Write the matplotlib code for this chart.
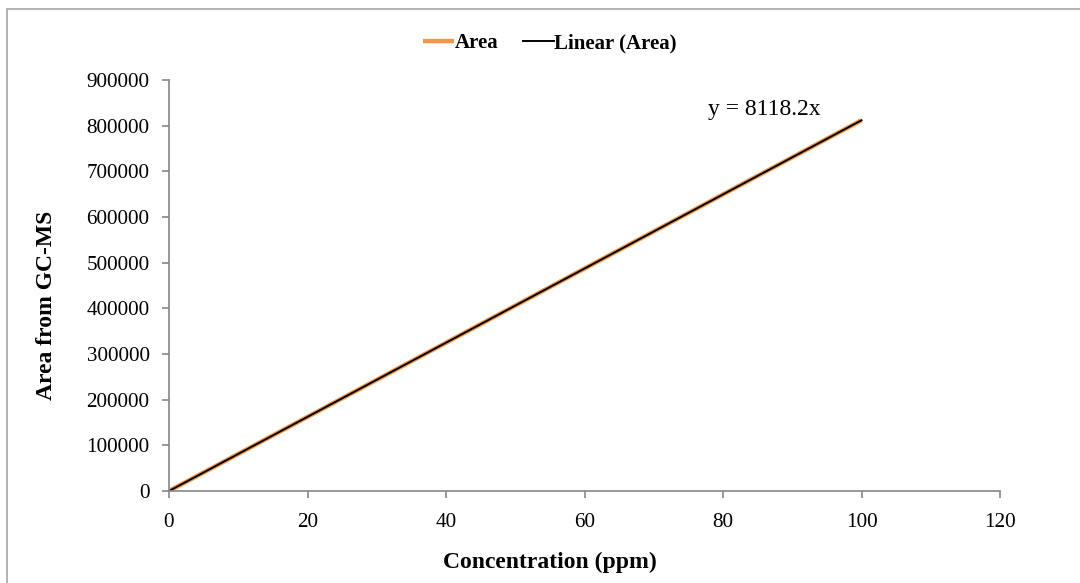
import numpy as np
import matplotlib.pyplot as plt
from matplotlib.patches import Rectangle

# data
concentration = [0, 10, 20, 40, 60, 80, 100]
area = [0, 81200, 162300, 324700, 487100, 649500, 811800]
slope = 8118.2
x_ticks = [0, 20, 40, 60, 80, 100, 120]
y_ticks = [0, 100000, 200000, 300000, 400000, 500000, 600000, 700000, 800000, 900000]

plt.rcParams['font.family'] = ['Liberation Serif', 'DejaVu Serif']

fig = plt.figure(figsize=(10.8, 5.83), dpi=100)
ax = fig.add_axes([169 / 1080, 1 - 491 / 583, (1000 - 169) / 1080, (491 - 80) / 583])

# chart border (Excel style)
fig.patches.append(Rectangle((7 / 1080, -0.1), 1.2, 1 - 9.5 / 583 + 0.1,
                             transform=fig.transFigure, fill=False,
                             edgecolor='#a6a6a6', linewidth=1.2))

ax.plot(concentration, area, color='#f79646', linewidth=3.2, label='Area',
        solid_capstyle='butt')
fit_x = np.array([concentration[0], concentration[-1]])
ax.plot(fit_x, slope * fit_x, color='black', linewidth=1.4, label='Linear (Area)')

ax.text(86, 835000, 'y = 8118.2x', fontsize=17, ha='center', va='center')

ax.set_xlim(0, 120)
ax.set_ylim(0, 900000)
ax.set_xticks(x_ticks)
ax.set_yticks(y_ticks)
ax.tick_params(labelsize=15.2, direction='out', length=5, color='#868686', width=1.2)
ax.tick_params(axis='y', pad=9)
ax.tick_params(axis='x', pad=11)

for s in ['top', 'right']:
    ax.spines[s].set_visible(False)
for s in ['left', 'bottom']:
    ax.spines[s].set_color('#868686')
    ax.spines[s].set_linewidth(1.2)

fig.text(550 / 1080, 1 - 562 / 583, 'Concentration (ppm)', fontsize=17,
         fontweight='bold', ha='center', va='center')
fig.text(47 / 1080, 1 - 305 / 583, 'Area from GC-MS', fontsize=17,
         fontweight='bold', ha='center', va='center', rotation=90)

fig.legend(loc='center', bbox_to_anchor=(550 / 1080, 1 - 43 / 583), ncol=2,
           frameon=False, prop={'weight': 'bold', 'size': 15},
           handlelength=1.5, handletextpad=0.0, columnspacing=1.2)

fig.savefig('out.png', dpi=100)
